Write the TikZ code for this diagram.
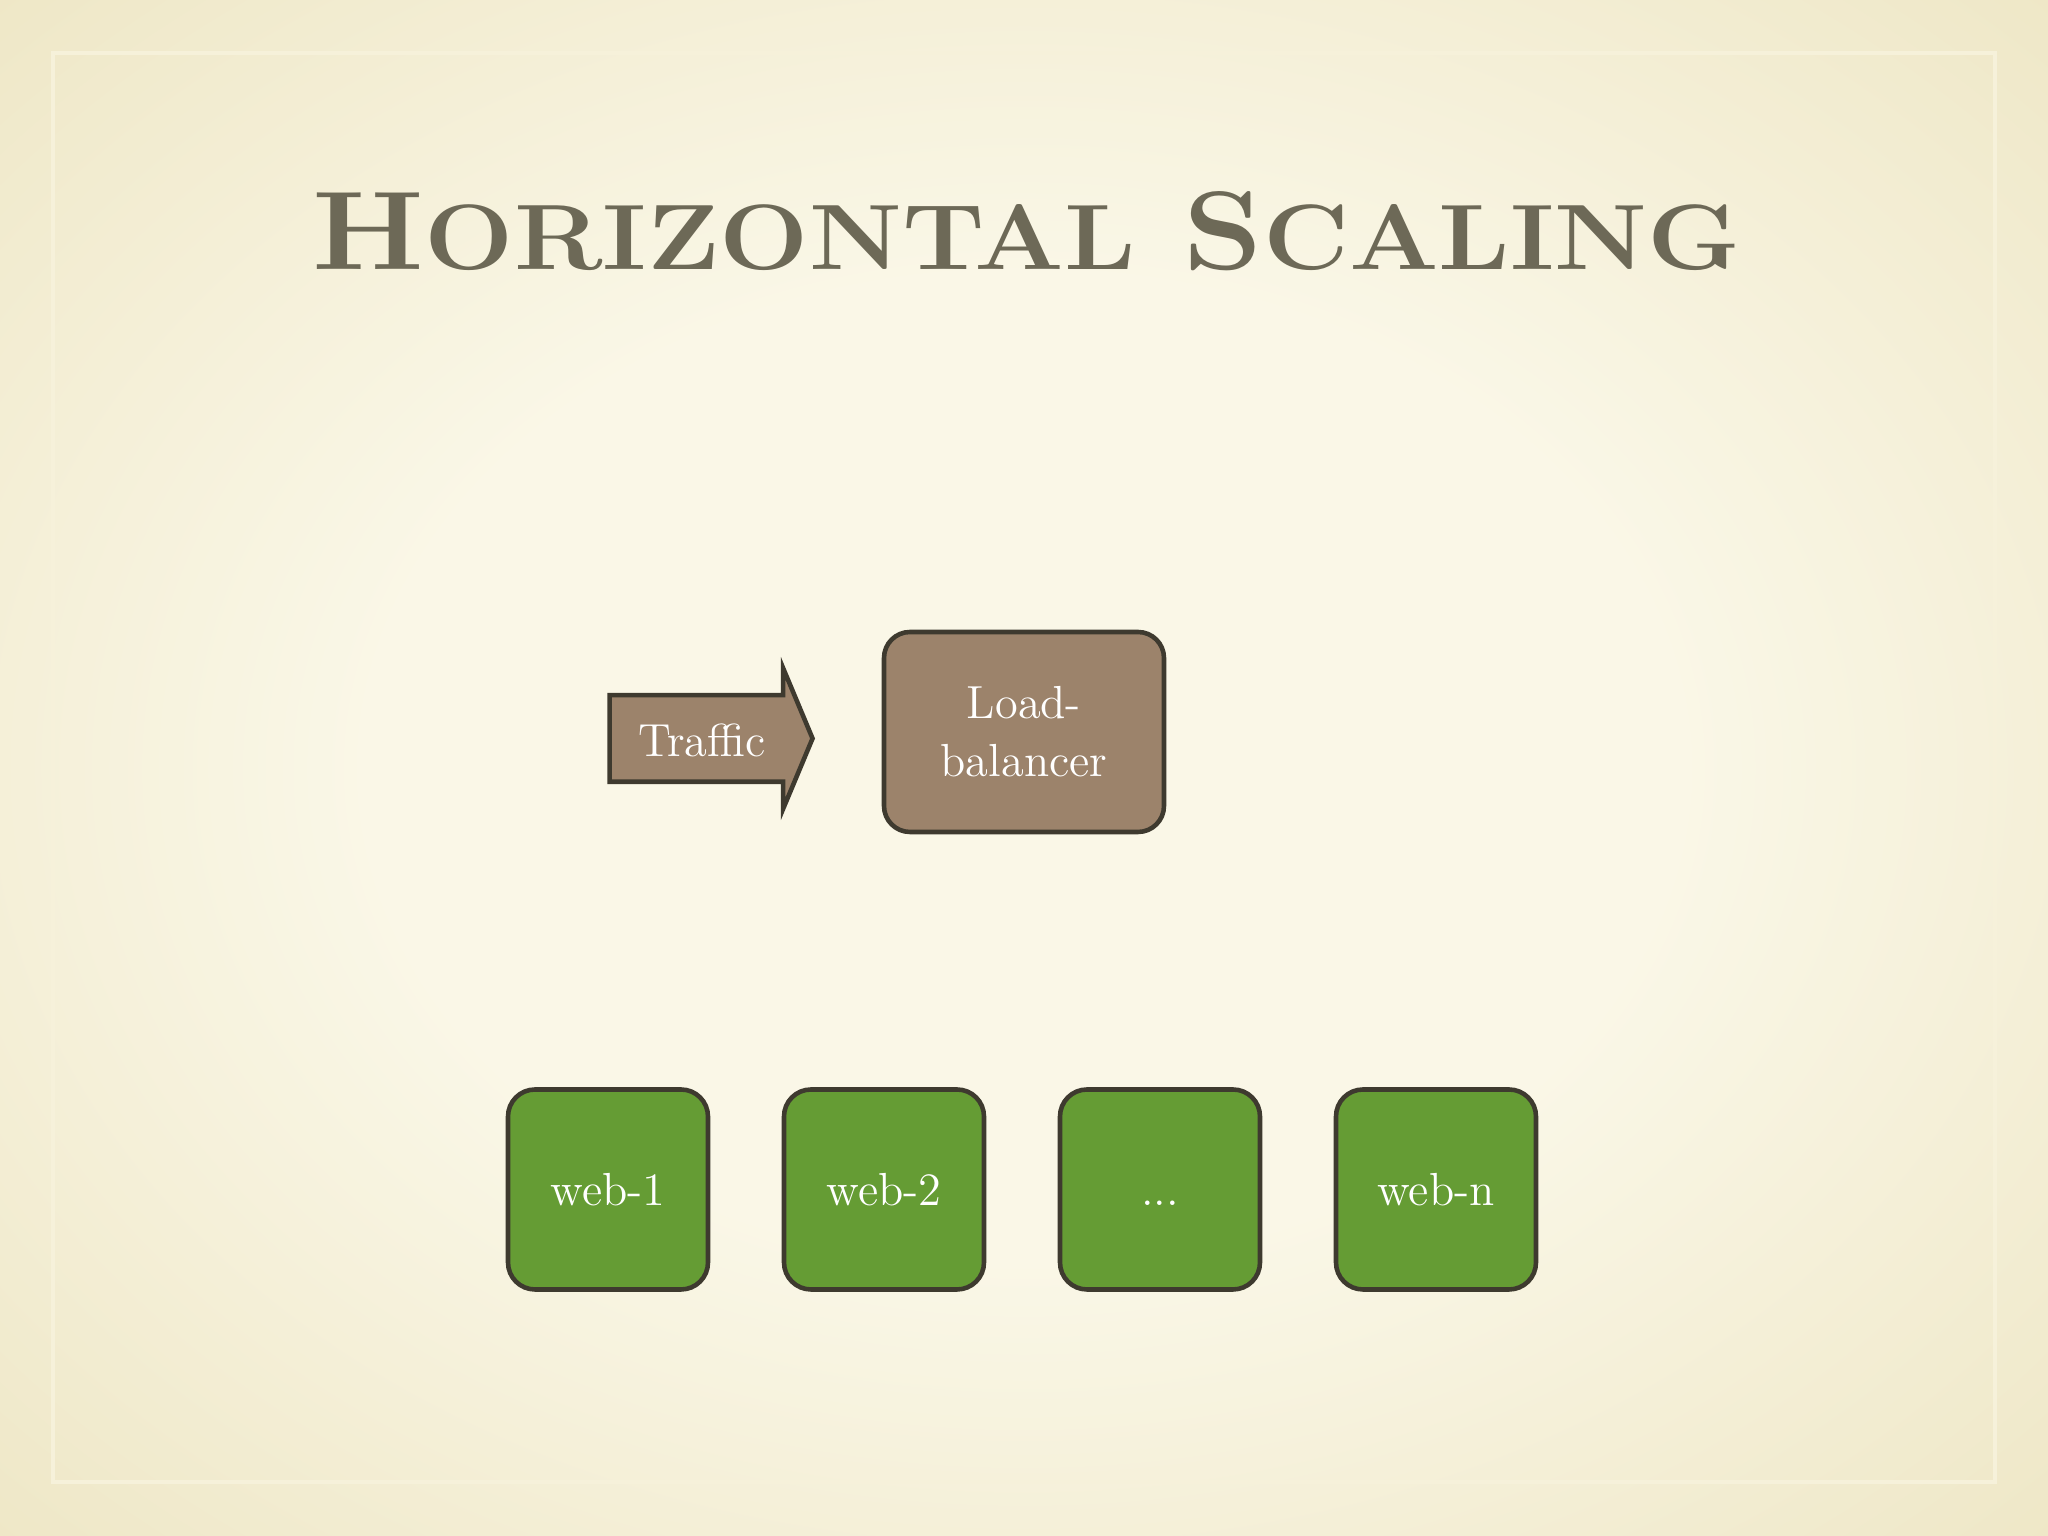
\documentclass[tikz,border=0pt]{standalone}
\usepackage{tikz}
\usepackage[table]{xcolor}
\usetikzlibrary{shapes.arrows}

\definecolor{slidebg}{HTML}{FAF7E7}
\definecolor{slideedge}{HTML}{E7DDB2}
\definecolor{slidecorner}{HTML}{D8CB97}
\definecolor{frameline}{HTML}{F6F1DA}
\definecolor{titlegray}{HTML}{6D6957}
\definecolor{boxline}{HTML}{3E3A2F}
\definecolor{lbbrown}{HTML}{9C836B}
\definecolor{webgreen}{HTML}{659C34}

\pgfdeclareradialshading{slideglow}{\pgfpoint{0bp}{0bp}}{%
  color(0bp)=(slidebg); color(16bp)=(slidebg); color(48bp)=(slideedge); color(71bp)=(slidecorner)}

\begin{document}
\begin{tikzpicture}[
  every node/.style={font=\fontsize{13.2}{16.5}\selectfont, text=white},
  lbbox/.style={rectangle, rounded corners=2.6mm, draw=boxline, line width=1.3pt,
    fill=lbbrown, minimum width=28mm, minimum height=20mm, align=center},
  webbox/.style={rectangle, rounded corners=2.7mm, draw=boxline, line width=1.3pt,
    fill=webgreen, minimum size=20mm, text height=3.2mm, text depth=0mm},
  trafficarrow/.style={single arrow, draw=boxline, line width=1.3pt, fill=lbbrown,
    inner xsep=0pt, inner ysep=0pt, text height=5.9mm, text depth=2.3mm,
    single arrow head extend=2.7mm, single arrow tip angle=134.6,
    minimum height=20.3mm}]
% slide background and frame
\useasboundingbox (0,0) rectangle (20.48,15.36);
\shade[shading=slideglow] (0,0) rectangle (20.48,15.36);
\draw[frameline, line width=1.4pt] (0.53,0.54) rectangle (19.95,14.83);
% title
\node[anchor=base, text=titlegray] (title) at (10.270, 12.660)
  {\resizebox{142.8mm}{7.8mm}{\bfseries\fontsize{32}{32}\selectfont
   H\fontsize{26.6}{26.6}\selectfont ORIZONTAL\fontsize{32}{32}\selectfont\ S\fontsize{26.6}{26.6}\selectfont CALING}};
% traffic into the balancer
\node[trafficarrow] (traffic) at (7.020, 7.975) {Traffic};
\node[lbbox] (lb) at (10.240, 8.040) {Load-\\balancer};
% web servers
\node[webbox] (web1) at (6.080, 3.465) {web-1};
\node[webbox] (web2) at (8.840, 3.465) {web-2};
\node[webbox] (webdots) at (11.600, 3.465) {...};
\node[webbox] (webn) at (14.360, 3.465) {web-n};
\end{tikzpicture}
\end{document}
